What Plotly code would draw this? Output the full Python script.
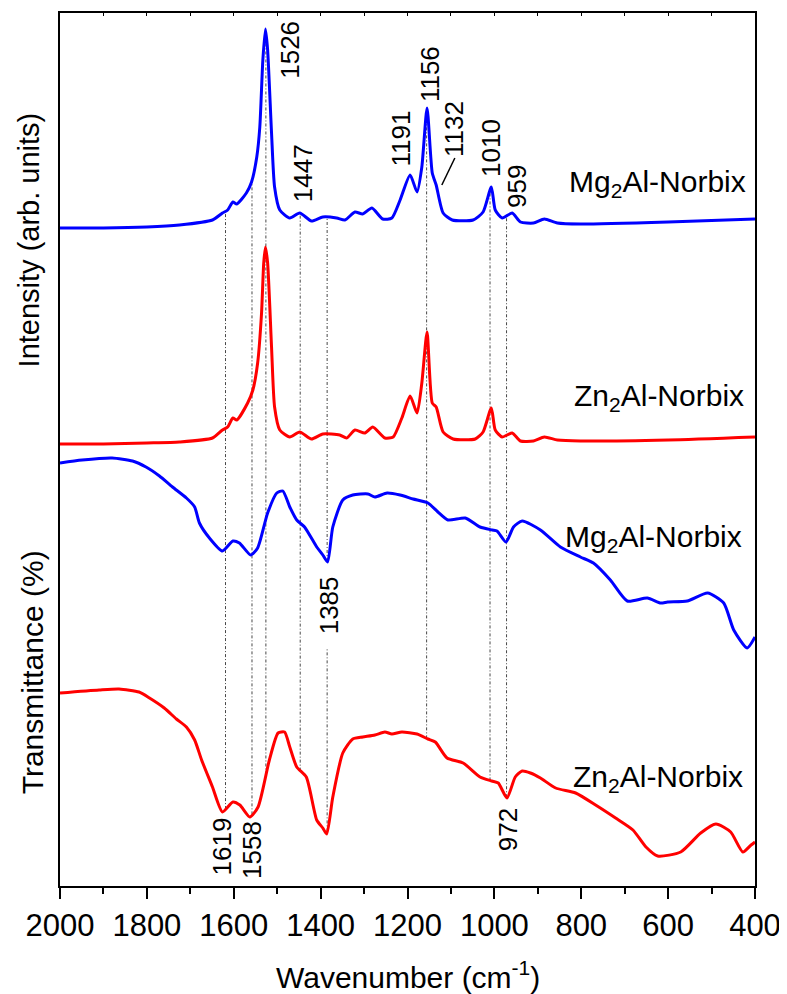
import numpy as np
import plotly.graph_objects as go

# ---------------- data (y in arbitrary stacked units) -------------
raman_mg_wn = [2000, 1900, 1800, 1725, 1649, 1626, 1614, 1602, 1593, 1571, 1559, 1547, 1540, 1533,
               1527, 1522, 1513, 1506, 1494, 1471, 1448, 1421, 1395, 1363, 1344, 1321, 1303, 1282,
               1257, 1236, 1217, 1194, 1178, 1167, 1155, 1143, 1134, 1118, 1097, 1049, 1026, 1007,
               998, 982, 959, 940, 910, 885, 855, 802, 600, 400]
raman_mg_y = [658, 658, 659, 661, 666, 673, 676, 684, 682, 693, 704, 729, 759, 826,
              857, 836, 753, 699, 676, 668, 673, 665, 669, 668, 666, 674, 672, 678,
              667, 668, 686, 711, 694, 719, 778, 713, 701, 673, 666, 666, 674, 699,
              676, 668, 673, 664, 663, 667, 663, 662, 664, 667]

raman_zn_wn = [2000, 1900, 1800, 1725, 1649, 1626, 1614, 1602, 1593, 1568, 1556, 1545, 1536, 1531,
               1527, 1522, 1513, 1506, 1494, 1471, 1448, 1421, 1395, 1356, 1340, 1321, 1298, 1280,
               1252, 1233, 1213, 1194, 1178, 1167, 1155, 1143, 1134, 1118, 1095, 1044, 1026, 1007,
               998, 982, 959, 940, 910, 885, 855, 802, 600, 400]
raman_zn_y = [442, 442, 443, 444, 448, 456, 459, 468, 466, 483, 496, 523, 573, 623,
              639, 623, 539, 479, 456, 449, 454, 447, 452, 451, 448, 456, 453, 459,
              448, 449, 468, 490, 473, 503, 554, 483, 479, 454, 447, 447, 454, 478,
              456, 449, 453, 445, 445, 449, 446, 445, 446, 449]

ftir_mg_wn = [2000, 1949, 1880, 1833, 1802, 1771, 1741, 1709, 1690, 1679, 1656, 1626, 1602, 1587,
              1561, 1545, 1522, 1501, 1487, 1471, 1455, 1437, 1409, 1395, 1384, 1372, 1349, 1326,
              1291, 1275, 1247, 1217, 1187, 1153, 1130, 1107, 1067, 1033, 1005, 994, 973, 956,
              936, 894, 848, 802, 772, 733, 694, 648, 617, 601, 556, 509, 472, 449, 418, 400]
ftir_mg_y = [423, 426, 428, 425, 419, 410, 399, 388, 379, 363, 348, 335, 345, 343,
             331, 338, 373, 393, 395, 379, 366, 359, 339, 331, 324, 359, 386, 391,
             392, 389, 393, 391, 387, 383, 374, 366, 368, 359, 356, 355, 344, 359,
             365, 356, 339, 329, 323, 306, 285, 288, 283, 284, 285, 293, 283, 256, 238, 249]

ftir_zn_wn = [2000, 1910, 1864, 1818, 1794, 1760, 1732, 1709, 1690, 1674, 1649, 1626, 1602, 1586,
              1563, 1544, 1518, 1498, 1483, 1471, 1455, 1433, 1409, 1395, 1386, 1372, 1349, 1326,
              1303, 1275, 1252, 1236, 1213, 1178, 1153, 1136, 1109, 1072, 1033, 1006, 991, 971,
              952, 936, 917, 894, 859, 813, 767, 721, 681, 651, 624, 571, 525, 490, 456, 428,
              409, 400]
ftir_zn_y = [193, 196, 197, 194, 188, 178, 167, 159, 146, 126, 99, 74, 84, 81,
             69, 79, 126, 153, 154, 139, 119, 109, 66, 58, 52, 89, 133, 147,
             149, 151, 154, 152, 154, 152, 147, 144, 128, 123, 109, 105, 103, 88,
             109, 115, 113, 108, 98, 93, 81, 68, 56, 39, 30, 34, 53, 62, 54, 34,
             41, 44]

# peak markers (vertical guide lines)
guide_wn = [1619, 1558, 1526, 1447, 1385, 1156, 1010, 972]

# peak labels: (text, wavenumber, y)
peak_labels = ["1526", "1447", "1191", "1156", "1132", "1010", "959", "1385", "1619", "1558", "972"]
peak_label_wn = [1471, 1440, 1214, 1148, 1093, 1008, 948, 1380, 1626, 1558, 968]
peak_label_y = [836, 713, 748, 812, 757, 738, 700, 281, 40, 36, 56]

sample_labels = ["Mg<sub>2</sub>Al-Norbix", "Zn<sub>2</sub>Al-Norbix",
                 "Mg<sub>2</sub>Al-Norbix", "Zn<sub>2</sub>Al-Norbix"]
sample_label_wn = [417, 421, 426, 424]
sample_label_y = [703, 489, 348, 108]

x_ticks = [2000, 1800, 1600, 1400, 1200, 1000, 800, 600, 400]

FONT = "Liberation Sans, Arial, sans-serif"
BLUE = "#0000FF"
RED = "#FF0000"

fig = go.Figure()


def interp(wn_list, y_list, w):
    return float(np.interp(w, wn_list[::-1], y_list[::-1]))


# guide lines (drawn first so the spectra sit on top)
label_gap = {1385: (281 - 44, 281 + 44)}
for w in guide_wn:
    y_top = interp(raman_mg_wn, raman_mg_y, w)
    y_bot = interp(ftir_zn_wn, ftir_zn_y, w)
    if w in label_gap:
        g0, g1 = label_gap[w]
        xs = [w, w, None, w, w]
        ys = [y_bot, g0, None, g1, y_top]
    else:
        xs = [w, w]
        ys = [y_bot, y_top]
    fig.add_trace(go.Scatter(x=xs, y=ys, mode="lines", showlegend=False, hoverinfo="skip",
                             line=dict(color="#333333", width=0.9, dash="3px,2px,1px,2px")))

for wn, y, col in [(raman_mg_wn, raman_mg_y, BLUE),
                   (raman_zn_wn, raman_zn_y, RED),
                   (ftir_mg_wn, ftir_mg_y, BLUE),
                   (ftir_zn_wn, ftir_zn_y, RED)]:
    fig.add_trace(go.Scatter(x=wn, y=y, mode="lines", showlegend=False,
                             line=dict(color=col, width=3, shape="spline", smoothing=0.6)))

annotations = []
for t, w, y in zip(peak_labels, peak_label_wn, peak_label_y):
    annotations.append(dict(x=w, y=y, xref="x", yref="y", text=t, showarrow=False,
                            textangle=-90, font=dict(family=FONT, size=26, color="black"),
                            xanchor="center", yanchor="middle"))
for t, w, y in zip(sample_labels, sample_label_wn, sample_label_y):
    annotations.append(dict(x=w, y=y, xref="x", yref="y", text=t, showarrow=False,
                            font=dict(family=FONT, size=30, color="black"),
                            xanchor="right", yanchor="middle"))
# axis titles
annotations.append(dict(x=0.5, y=-0.102, xref="paper", yref="paper",
                        text="Wavenumber (cm<sup>-1</sup>)", showarrow=False,
                        font=dict(family=FONT, size=30, color="black"),
                        xanchor="center", yanchor="middle"))
annotations.append(dict(x=-0.044, y=0.74, xref="paper", yref="paper",
                        text="Intensity (arb. units)", showarrow=False, textangle=-90,
                        font=dict(family=FONT, size=29, color="black"),
                        xanchor="center", yanchor="middle"))
annotations.append(dict(x=-0.04, y=0.245, xref="paper", yref="paper",
                        text="Transmittance (%)", showarrow=False, textangle=-90,
                        font=dict(family=FONT, size=30, color="black"),
                        xanchor="center", yanchor="middle"))

# the page body has an 8px margin, so the figure is 8px smaller and margins shifted
fig.update_layout(
    width=779, height=986,
    margin=dict(l=52, r=32, t=5, b=108, autoexpand=False),
    paper_bgcolor="white", plot_bgcolor="white",
    annotations=annotations,
    xaxis=dict(range=[2000, 400], tickmode="array", tickvals=x_ticks,
               ticktext=[str(v) for v in x_ticks], automargin=False,
               ticks="outside", ticklen=11, tickwidth=1.5, tickcolor="black",
               minor=dict(dtick=100, tick0=0, ticks="outside", ticklen=6, tickwidth=1.5,
                          tickcolor="black", showgrid=False),
               tickfont=dict(family=FONT, size=31, color="black"),
               showline=True, linecolor="black", linewidth=1.8, mirror=True,
               showgrid=False, zeroline=False),
    xaxis2=dict(range=[2000, 400], overlaying="x", side="top", dtick=100, tick0=0,
                ticks="inside", ticklen=3, tickwidth=1, tickcolor="black", automargin=False,
                showticklabels=False, showgrid=False, zeroline=False, showline=False),
    yaxis=dict(range=[0, 873], showticklabels=False, ticks="", showline=True, automargin=False,
               linecolor="black", linewidth=1.8, mirror=True, showgrid=False, zeroline=False),
)
# dummy trace to activate the top axis
fig.add_trace(go.Scatter(x=[2000], y=[None], xaxis="x2", showlegend=False, hoverinfo="skip"))

# leader line for the 1132 label
fig.add_shape(type="line", x0=1121, y0=701, x1=1091, y1=728, xref="x", yref="y",
              line=dict(color="black", width=1.5))

fig.write_html("out.html")
